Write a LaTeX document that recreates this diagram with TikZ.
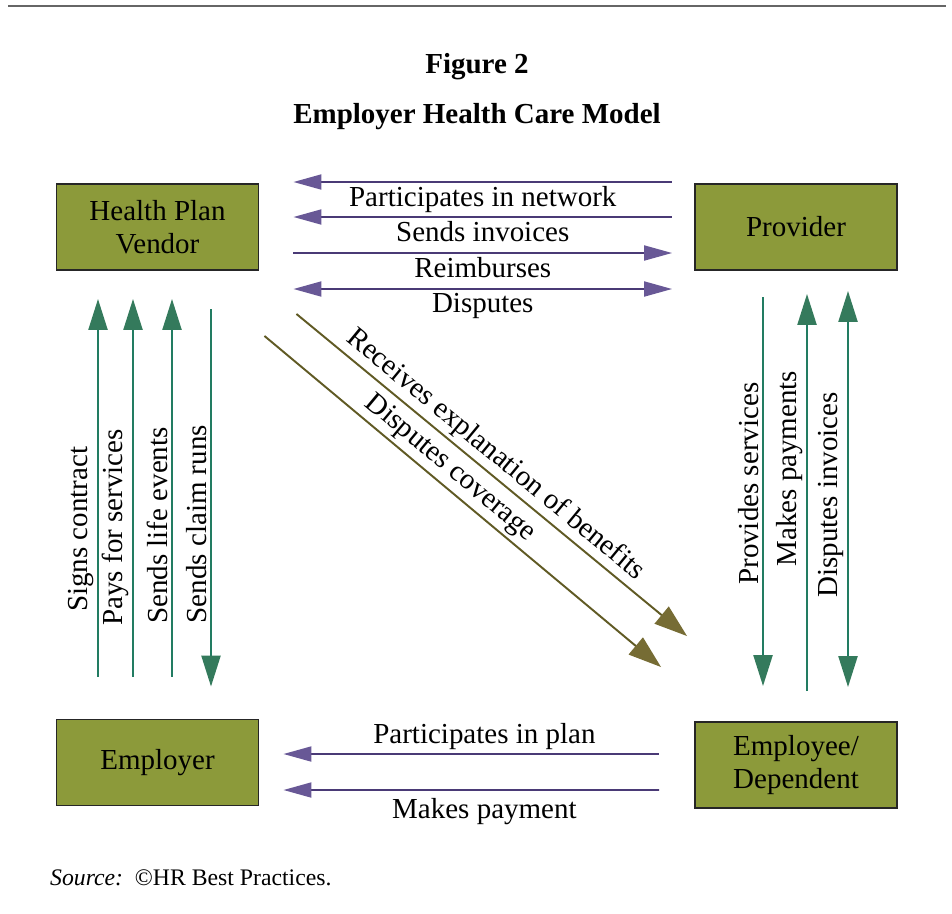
\documentclass[tikz,border=0pt]{standalone}
\usepackage{fontspec}
\setmainfont{Liberation Serif}
\usetikzlibrary{arrows.meta,calc}

\definecolor{boxgreen}{RGB}{140,154,58}
\definecolor{flowpurple}{RGB}{74,58,118}
\definecolor{headpurple}{RGB}{104,88,150}
\definecolor{flowteal}{RGB}{34,124,98}
\definecolor{headteal}{RGB}{52,122,92}
\definecolor{flowolive}{RGB}{96,90,36}
\definecolor{headolive}{RGB}{118,108,52}

\begin{document}
\begin{tikzpicture}[x=0.02cm,y=-0.02cm,
  font=\fontsize{16.5}{18.5}\selectfont,
  box/.style={draw=black!85,line width=1.1pt,fill=boxgreen,minimum width=4.04cm,minimum height=1.72cm,align=center},
  hflow/.style={draw=flowpurple,line width=1.1pt,>={Triangle[length=0.56cm,width=0.3cm,color=headpurple]}},
  vflow/.style={draw=flowteal,line width=1.3pt,>={Triangle[length=0.62cm,width=0.38cm,color=headteal]}},
  dflow/.style={draw=flowolive,line width=1.1pt,>={Triangle[length=0.66cm,width=0.44cm,color=headolive]}},
  lbl/.style={inner sep=2pt}]
\useasboundingbox (0,0) rectangle (952,913);

\draw[black!60,line width=1.6pt] (8,6) -- (946,6);
\node[font=\bfseries\fontsize{16.5}{18.5}\selectfont] (fig) at (477,67) {Figure 2};
\node[font=\bfseries\fontsize{16.5}{18.5}\selectfont] (title) at (477,117) {Employer Health Care Model};

\node[box] (vendor) at (157.5,227) {Health Plan\\Vendor};
\node[box] (provider) at (796,227) {Provider};
\node[box] (employer) at (157.5,762.5) {Employer};
\node[box] (employee) at (796,765) {Employee/\\Dependent};

\foreach \dy/\tip/\txt in {-45/<-/Participates in network,-10/<-/Sends invoices,26/->/Reimburses,62/<->/Disputes}
  \draw[hflow,\tip] ($(vendor.east)+(34,\dy)$) -- ($(provider.west)+(-22,\dy)$) node[midway,below,lbl] {\txt};

\foreach \dx/\a/\b/\tip/\pos/\txt in {-59.5/-42/28/->/0.39/Signs contract,-24.5/-42/28/->/0.395/Pays for services,14.5/-42/28/->/0.40/Sends life events,53.5/-32/38/<-/0.43/Sends claim runs}
  \draw[vflow,\tip] ($(employer.north)+(\dx,\a)$) -- ($(vendor.south)+(\dx,\b)$) node[pos=\pos,above,sloped,lbl] {\txt};

\foreach \dx/\a/\b/\tip/\pos/\txt in {-33/-35/26/<-/0.52/Provides services,11/-30/23/->/0.56/Makes payments,52/-34/20/<->/0.485/Disputes invoices}
  \draw[vflow,\tip] ($(employee.north)+(\dx,\a)$) -- ($(provider.south)+(\dx,\b)$) node[pos=\pos,above,sloped,lbl] {\txt};

\draw[dflow,->] ($(vendor.south east)+(37,43)$) -- ($(employee.north west)+(-7,-85)$) node[pos=0.48,above,sloped,lbl] {Receives explanation of benefits};
\draw[dflow,->] ($(vendor.south east)+(5,65)$) -- ($(employee.north west)+(-33,-54)$) node[pos=0.44,above,sloped,lbl] {Disputes coverage};

\draw[hflow,<-] ($(employer.east)+(24,-8.5)$) -- ($(employee.west)+(-35,-11)$) node[pos=0.535,above,lbl] {Participates in plan};
\draw[hflow,<-] ($(employer.east)+(24,27.5)$) -- ($(employee.west)+(-35,25)$) node[pos=0.535,below,inner sep=4pt] {Makes payment};

\node[anchor=base west,font=\fontsize{13.5}{16}\selectfont] (source) at (44,885) {\textit{Source:}\enspace\textcopyright HR Best Practices.};
\end{tikzpicture}
\end{document}
